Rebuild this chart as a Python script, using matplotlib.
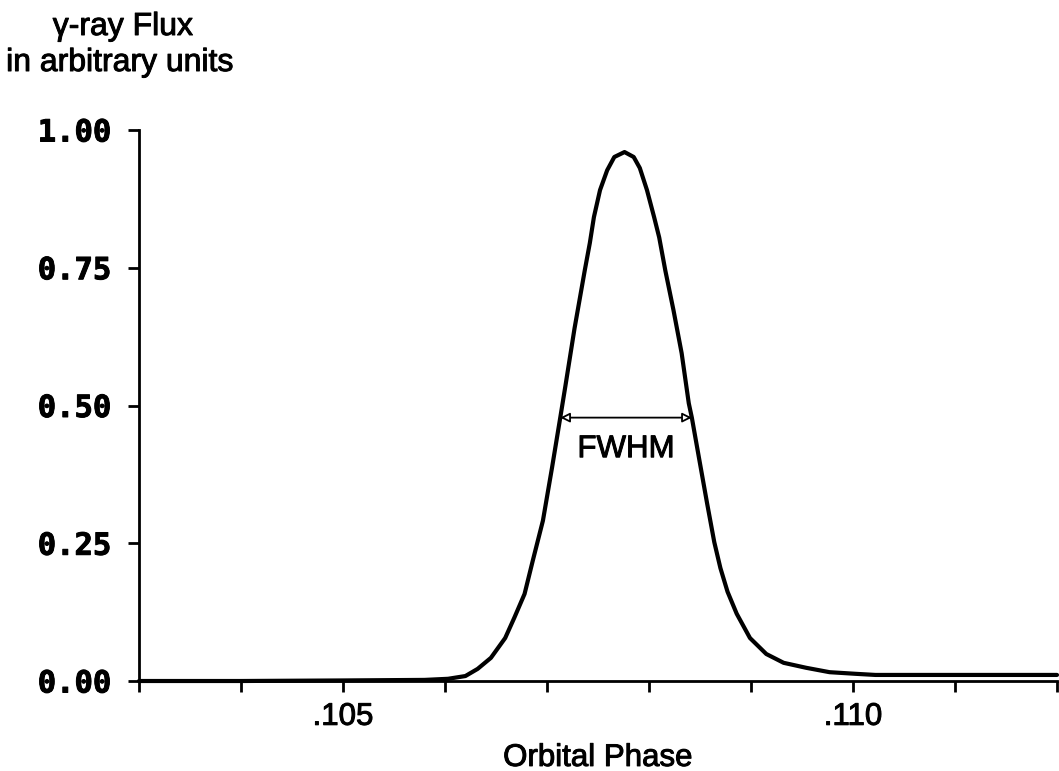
import matplotlib
matplotlib.use("Agg")
import matplotlib.pyplot as plt
import matplotlib.patheffects as pe

# Data

phase = [
    0.10300, 0.10400, 0.10500, 0.10580, 0.10603, 0.10620, 0.10632, 0.10645,
    0.10659, 0.10668, 0.10678, 0.10686, 0.10696, 0.10705, 0.10713, 0.10718,
    0.10727, 0.10737, 0.10742, 0.10746, 0.10752, 0.10759, 0.10766, 0.10776,
    0.10785, 0.10791, 0.10798, 0.10805, 0.10810, 0.10816, 0.10824, 0.10832,
    0.10839, 0.10842, 0.10849, 0.10857, 0.10864, 0.10870, 0.10877, 0.10886,
    0.10899, 0.10915, 0.10932, 0.10954, 0.10977, 0.11003, 0.11022, 0.11100,
    0.11200,
]
flux = [
    0.000, 0.000, 0.001, 0.002, 0.004, 0.009, 0.022, 0.042,
    0.078, 0.115, 0.158, 0.218, 0.291, 0.388, 0.478, 0.535,
    0.640, 0.745, 0.795, 0.842, 0.891, 0.927, 0.951, 0.960,
    0.951, 0.931, 0.891, 0.842, 0.805, 0.745, 0.673, 0.595,
    0.504, 0.478, 0.405, 0.322, 0.252, 0.205, 0.162, 0.122,
    0.078, 0.049, 0.033, 0.024, 0.016, 0.013, 0.011, 0.011,
    0.011,
]

x_ticks = [0.103, 0.104, 0.105, 0.106, 0.107, 0.108, 0.109, 0.110, 0.111, 0.112]
x_tick_labels = ["", "", ".105", "", "", "", "", ".110", "", ""]
y_ticks = [0.0, 0.25, 0.5, 0.75, 1.0]
y_tick_labels = ["0.00", "0.25", "0.50", "0.75", "1.00"]

fwhm_left = 0.10713
fwhm_right = 0.10842
fwhm_level = 0.478

SANS = "Liberation Sans"
# scanned type looks a bit heavier than a clean render
ink = [pe.withStroke(linewidth=0.7, foreground="black")]

fig = plt.figure(figsize=(10.59, 7.71), dpi=100)
W, H = 1059, 771
ax = fig.add_axes([139 / W, (H - 681) / H, (1057 - 139) / W, (681 - 130) / H])

ax.plot(phase, flux, color="black", lw=3.0, solid_joinstyle="round",
        solid_capstyle="round", clip_on=False)

ax.set_xlim(0.103, 0.112)
ax.set_ylim(0.0, 1.0)

for side in ["top", "right"]:
    ax.spines[side].set_visible(False)
for side in ["left", "bottom"]:
    ax.spines[side].set_linewidth(2.0)

ax.set_xticks(x_ticks)
ax.set_xticklabels(x_tick_labels, fontfamily=SANS, fontsize=22.5,
                   path_effects=ink)
ax.set_yticks(y_ticks)
ax.set_yticklabels(y_tick_labels, fontfamily="DejaVu Sans Mono",
                   fontweight="bold", fontsize=22, path_effects=ink)
ax.tick_params(axis="x", direction="out", length=8, width=2.0, pad=7)
ax.tick_params(axis="y", direction="out", length=8, width=2.0, pad=12)

ax.set_xlabel("Orbital Phase", fontfamily=SANS, fontsize=22.5, labelpad=8,
              path_effects=ink)

# FWHM marker
ax.annotate("", xy=(fwhm_left, fwhm_level), xytext=(fwhm_right, fwhm_level),
            arrowprops=dict(arrowstyle="<|-|>", fc="white", ec="black",
                            lw=1.3, mutation_scale=14, shrinkA=0, shrinkB=0))
ax.text((fwhm_left + fwhm_right) / 2, fwhm_level - 0.03, "FWHM",
        ha="center", va="top", fontfamily=SANS, fontsize=22.5, path_effects=ink)

fig.text(123 / W, 1 - 27 / H, "\u03b3-ray Flux", ha="center", va="center",
         fontfamily=SANS, fontsize=23, path_effects=ink)
fig.text(120 / W, 1 - 63 / H, "in arbitrary units", ha="center", va="center",
         fontfamily=SANS, fontsize=23, path_effects=ink)

fig.savefig("out.png", dpi=100)
